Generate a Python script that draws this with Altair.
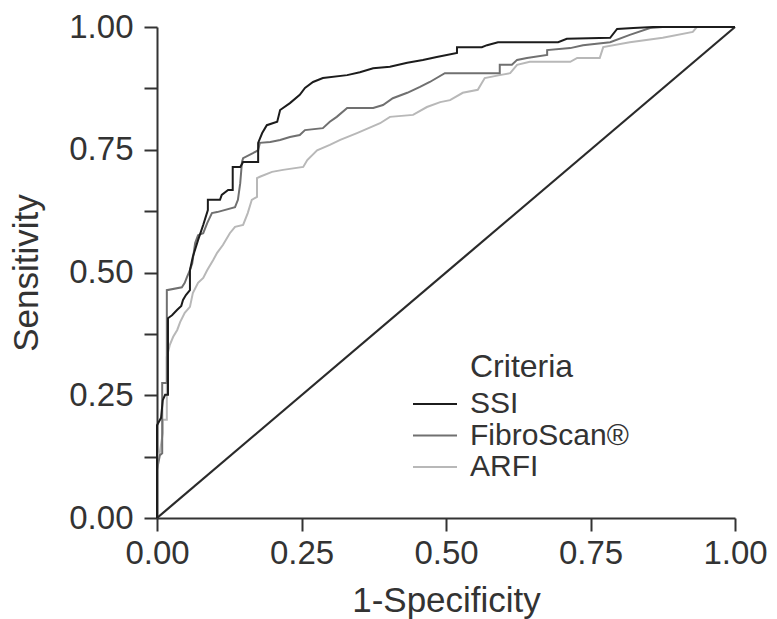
import altair as alt
import pandas as pd

# ROC curve vertices (1-specificity, sensitivity) for each criterion
ssi_fpr = [0.0, 0.0, 0.007, 0.010, 0.014, 0.019, 0.019, 0.026, 0.035, 0.042, 0.045, 0.050,
           0.057, 0.057, 0.062, 0.071, 0.080, 0.088, 0.088, 0.109, 0.112, 0.123, 0.131, 0.131,
           0.144, 0.149, 0.175, 0.175, 0.182, 0.190, 0.208, 0.213, 0.230, 0.247, 0.256, 0.270,
           0.287, 0.329, 0.351, 0.374, 0.403, 0.433, 0.460, 0.484, 0.519, 0.519, 0.562, 0.571,
           0.590, 0.694, 0.709, 0.784, 0.796, 0.824, 0.858, 1.0]
ssi_tpr = [0.0, 0.189, 0.204, 0.240, 0.251, 0.251, 0.407, 0.413, 0.424, 0.432, 0.444, 0.454,
           0.464, 0.505, 0.532, 0.566, 0.597, 0.627, 0.648, 0.648, 0.658, 0.668, 0.668, 0.715,
           0.715, 0.725, 0.725, 0.764, 0.784, 0.800, 0.807, 0.831, 0.845, 0.862, 0.876, 0.888,
           0.896, 0.902, 0.908, 0.916, 0.919, 0.927, 0.933, 0.939, 0.947, 0.959, 0.959, 0.963,
           0.969, 0.969, 0.976, 0.978, 0.996, 0.998, 1.0, 1.0]

fibro_fpr = [0.0, 0.0, 0.005, 0.009, 0.009, 0.017, 0.017, 0.043, 0.048, 0.052, 0.057, 0.061,
             0.066, 0.071, 0.080, 0.087, 0.095, 0.104, 0.135, 0.140, 0.144, 0.147, 0.149, 0.166,
             0.175, 0.178, 0.196, 0.213, 0.230, 0.247, 0.256, 0.287, 0.299, 0.311, 0.329, 0.374,
             0.391, 0.408, 0.433, 0.455, 0.472, 0.498, 0.593, 0.593, 0.614, 0.623, 0.640, 0.675,
             0.675, 0.715, 0.737, 0.784, 0.818, 0.853, 0.875, 1.0]
fibro_tpr = [0.0, 0.098, 0.128, 0.132, 0.275, 0.275, 0.464, 0.470, 0.479, 0.491, 0.505, 0.519,
             0.560, 0.576, 0.580, 0.601, 0.621, 0.623, 0.633, 0.648, 0.682, 0.725, 0.733, 0.743,
             0.749, 0.764, 0.766, 0.770, 0.776, 0.780, 0.790, 0.794, 0.807, 0.817, 0.835, 0.835,
             0.841, 0.855, 0.866, 0.878, 0.888, 0.906, 0.906, 0.923, 0.923, 0.933, 0.937, 0.943,
             0.953, 0.957, 0.963, 0.969, 0.984, 0.998, 1.0, 1.0]

arfi_fpr = [0.0, 0.0, 0.005, 0.010, 0.010, 0.017, 0.017, 0.022, 0.028, 0.035, 0.040, 0.048,
            0.057, 0.062, 0.071, 0.080, 0.087, 0.097, 0.104, 0.114, 0.126, 0.135, 0.149, 0.157,
            0.164, 0.173, 0.173, 0.178, 0.199, 0.218, 0.253, 0.260, 0.277, 0.299, 0.317, 0.346,
            0.386, 0.403, 0.443, 0.467, 0.490, 0.507, 0.529, 0.555, 0.567, 0.593, 0.611, 0.623,
            0.645, 0.715, 0.727, 0.766, 0.772, 0.818, 0.875, 0.927, 0.934, 1.0]
arfi_tpr = [0.0, 0.118, 0.134, 0.173, 0.200, 0.200, 0.328, 0.352, 0.369, 0.383, 0.399, 0.418,
            0.430, 0.458, 0.479, 0.489, 0.505, 0.525, 0.540, 0.556, 0.580, 0.593, 0.597, 0.621,
            0.648, 0.654, 0.692, 0.695, 0.705, 0.709, 0.715, 0.729, 0.749, 0.760, 0.770, 0.784,
            0.804, 0.817, 0.821, 0.837, 0.847, 0.851, 0.866, 0.872, 0.896, 0.902, 0.906, 0.923,
            0.929, 0.929, 0.937, 0.937, 0.959, 0.969, 0.978, 0.990, 1.0, 1.0]

criteria = ["SSI", "FibroScan®", "ARFI"]
colors = ["#1c1c1c", "#707070", "#b8b8b8"]

# reference (chance) line
diag_x = [0.0, 1.0]
diag_y = [0.0, 1.0]

rows = []
# lighter curves first so the darker ones are drawn on top
for name, xs, ys in [("ARFI", arfi_fpr, arfi_tpr),
                     ("FibroScan®", fibro_fpr, fibro_tpr),
                     ("SSI", ssi_fpr, ssi_tpr)]:
    for i, (a, b) in enumerate(zip(xs, ys)):
        rows.append({"Criteria": name, "fpr": a, "tpr": b, "idx": i})
curves = pd.DataFrame(rows)
diag = pd.DataFrame({"fpr": diag_x, "tpr": diag_y})
keys = pd.DataFrame({"Criteria": criteria, "row": list(range(len(criteria)))})

FONT = "Liberation Sans"
TXT = "#333333"

x_scale = alt.Scale(domain=[0, 1], nice=False, zero=False)
y_scale = alt.Scale(domain=[0, 1], nice=False, zero=False)
color_scale = alt.Scale(domain=criteria, range=colors)

x_axis = alt.Axis(title="1-Specificity", values=[0, 0.25, 0.5, 0.75, 1.0], format=".2f",
                  grid=False, labelFlush=False, labelOverlap=False)
y_axis = alt.Axis(title="Sensitivity", values=[i / 8 for i in range(9)], grid=False,
                  labelExpr="datum.value % 0.25 == 0 ? format(datum.value, '.2f') : ''",
                  labelFlush=False, labelOverlap=False)

diag_line = alt.Chart(diag).mark_line(color="#2a2a2a", strokeWidth=2.2).encode(
    x=alt.X("fpr:Q", scale=x_scale, axis=x_axis),
    y=alt.Y("tpr:Q", scale=y_scale, axis=y_axis),
)

roc = alt.Chart(curves).mark_line(strokeWidth=2, interpolate="linear").encode(
    x=alt.X("fpr:Q", scale=x_scale),
    y=alt.Y("tpr:Q", scale=y_scale),
    color=alt.Color("Criteria:N", scale=color_scale, legend=None),
    order="idx:Q",
)

# key drawn inside the plot: one row per criterion on its own row scale
row_scale = alt.Scale(domain=[0, 2], range=[377, 440], nice=False, zero=False)
key_lines = alt.Chart(keys).mark_rule(strokeWidth=2.2).encode(
    x=alt.value(256), x2=alt.value(300),
    y=alt.Y("row:Q", scale=row_scale, axis=None),
    color=alt.Color("Criteria:N", scale=color_scale, legend=None),
)
key_text = alt.Chart(keys).mark_text(
    align="left", baseline="middle", fontSize=30, font=FONT, color=TXT
).encode(
    x=alt.value(313),
    y=alt.Y("row:Q", scale=row_scale, axis=None),
    text="Criteria:N",
)
key_title = alt.Chart(pd.DataFrame({"t": ["Criteria"]})).mark_text(
    align="left", baseline="middle", fontSize=32, font=FONT, color=TXT
).encode(x=alt.value(313), y=alt.value(340), text="t:N")

key = alt.layer(key_lines, key_text, key_title)

chart = alt.layer(alt.layer(diag_line, roc), key).resolve_scale(y="independent").properties(
    width=578, height=491,
    autosize=alt.AutoSizeParams(type="none"),
    padding={"left": 157, "top": 27, "right": 42, "bottom": 101},
).configure_view(stroke=None).configure_axis(
    domainColor="#333333", domainWidth=2, tickColor="#333333", tickWidth=2, tickSize=13,
    labelFont=FONT, labelFontSize=33, labelColor=TXT,
    titleFont=FONT, titleFontSize=35, titleColor=TXT, titleFontWeight="normal",
).configure_axisY(titlePadding=24, labelPadding=11).configure_axisX(titlePadding=13, labelPadding=6)

chart.save("out.html", embed_options={"renderer": "svg", "actions": False})
